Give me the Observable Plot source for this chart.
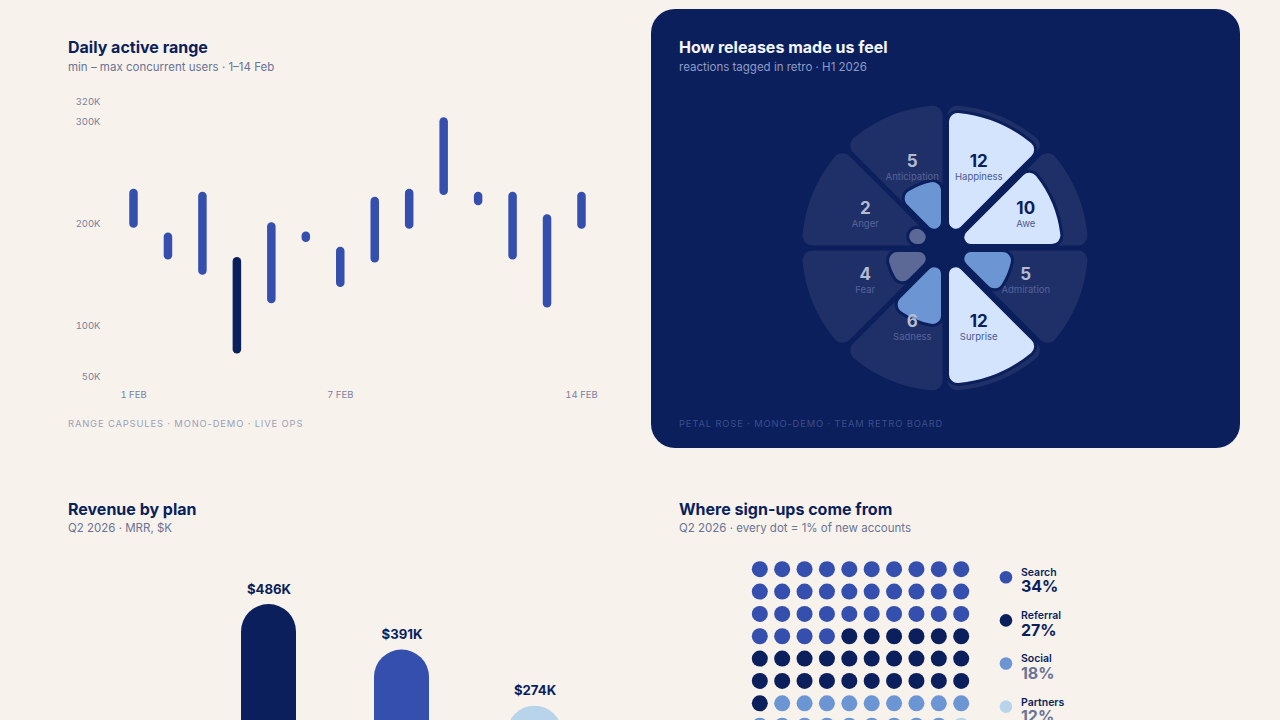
<!DOCTYPE html>
<html><head><meta charset="utf-8">
<script src="https://cdn.jsdelivr.net/npm/d3@7"></script>
<script src="https://cdn.jsdelivr.net/npm/@observablehq/plot@0.6"></script>
<style>
html,body{margin:0;padding:0;width:1280px;height:720px;overflow:hidden;background:#f7f2ec;font-family:Inter,sans-serif;}
.abs{position:absolute;white-space:nowrap;}
.title{font-size:16px;font-weight:700;color:#0b1f5c;line-height:20px;}
.sub{font-size:11.5px;color:#6b7396;line-height:14px;}
.foot{font-size:9.4px;letter-spacing:0.85px;color:#9ba1b8;line-height:12px;}
#card{position:absolute;left:651px;top:9px;width:589px;height:439px;border-radius:24px;background:#0b1f5c;}
.plot{position:absolute;}
</style></head>
<body>
<div class="abs title" style="left:68px;top:37px">Daily active range</div>
<div class="abs sub" style="left:68px;top:60px">min – max concurrent users · 1–14 Feb</div>
<div class="abs foot" style="left:68px;top:418px">RANGE CAPSULES · MONO-DEMO · LIVE OPS</div>
<div id="p1" class="plot" style="left:60px;top:85px"></div>

<div id="card"></div>
<div class="abs title" style="left:679px;top:37px;color:#f4f5fa">How releases made us feel</div>
<div class="abs sub" style="left:679px;top:60px;color:#8f9bc6">reactions tagged in retro · H1 2026</div>
<div class="abs foot" style="left:679px;top:418px;color:#3b4d8c">PETAL ROSE · MONO-DEMO · TEAM RETRO BOARD</div>
<div id="p2" class="plot" style="left:651px;top:80px"></div>

<div class="abs title" style="left:68px;top:499px">Revenue by plan</div>
<div class="abs sub" style="left:68px;top:521px">Q2 2026 · MRR, $K</div>
<div id="p3" class="plot" style="left:60px;top:540px"></div>

<div class="abs title" style="left:679px;top:499px">Where sign-ups come from</div>
<div class="abs sub" style="left:679px;top:521px">Q2 2026 · every dot = 1% of new accounts</div>
<div id="p4" class="plot" style="left:670px;top:545px"></div>

<script>
// ---------- data ----------
const days = [1,2,3,4,5,6,7,8,9,10,11,12,13,14];
const usersMin = [200000,169000,154000,77000,126000,186000,142000,166000,199000,232000,222000,169000,122000,199000];
const usersMax = [230000,187000,227000,163000,197000,188000,173000,222000,230000,300000,227000,227000,205000,227000];
const yTicks = [50000,100000,200000,300000,320000];
const xTicks = [1,7,14];

const emotions = ["Happiness","Awe","Admiration","Surprise","Sadness","Fear","Anger","Anticipation"];
const reactions = [12,10,5,12,6,4,2,5];

const plans = ["Starter","Pro","Team","Enterprise"];
const revenue = [152,486,391,274];

const sources = ["Search","Referral","Social","Partners","Other"];
const shares = [34,27,18,12,9];

// ---------- palette ----------
const NAVY="#0b1f5c", BLUE="#344fad", MID="#6b95d3", LIGHT="#b8d4ea";
const baseStyle = {background:"transparent", fontFamily:"Inter, sans-serif", overflow:"visible"};

// ---------- 1. range capsules ----------
const dayRows = days.map((d,i)=>({day:d, min:usersMin[i], max:usersMax[i]}));
const lowest = d3.min(usersMin);
document.getElementById("p1").append(Plot.plot({
  width:560, height:330, marginLeft:48, marginBottom:30, marginTop:10, marginRight:20,
  style:{...baseStyle, fontSize:"9.5px", color:"#7b819e"},
  x:{domain:[1,14], range:[73,521]},
  y:{domain:[50000,320000], range:[291.7,16]},
  marks:[
    Plot.axisY({ticks:yTicks, tickSize:0, tickPadding:8, tickFormat:d=>d/1000+"K", label:null}),
    Plot.axisX({ticks:xTicks, tickSize:0, tickPadding:6, tickFormat:d=>d+" FEB", label:null}),
    Plot.ruleX(dayRows, {x:"day", y1:"min", y2:"max", stroke:d=>d.min===lowest?NAVY:BLUE, strokeWidth:8.5, strokeLinecap:"round"})
  ]
}));

// ---------- 2. petal rose ----------
const r0 = 2.05;                       // inner hole, in value units
const rMax = d3.max(reactions)*1.05;
const R = r0 + rMax;
const step = 2*Math.PI/emotions.length;
const petalColor = v => v>=10 ? "#d3e4fc" : v>=5 ? MID : "#5c6896";
const roseRows = emotions.map((e,i)=>{
  const mid=(i+0.5)*step, rl=8.9;
  return {emotion:e, value:reactions[i], start:i*step, end:(i+1)*step, lx:rl*Math.sin(mid), ly:rl*Math.cos(mid)};
});
function roseMark(index, scales){
  const X=scales.x, Y=scales.y;
  const cx=X(0), cy=Y(0), k=X(1)-X(0);
  const g=d3.create("svg:g").attr("transform",`translate(${cx},${cy})`);
  const arc=d3.arc().innerRadius(r0*k).cornerRadius(10).padAngle(0.05).padRadius(100);
  roseRows.forEach(d=>g.append("path").attr("d",arc({startAngle:d.start,endAngle:d.end,outerRadius:R*k})).attr("fill","#1f3068"));
  roseRows.forEach(d=>g.append("path").attr("d",arc({startAngle:d.start,endAngle:d.end,outerRadius:(r0+d.value)*k}))
    .attr("fill",petalColor(d.value)).attr("stroke",NAVY).attr("stroke-width",3));
  return g.node();
}
document.getElementById("p2").append(Plot.plot({
  width:589, height:340, margin:0,
  style:{...baseStyle},
  x:{domain:[-R,R], range:[151,437], axis:null},
  y:{domain:[-R,R], range:[311,25], axis:null},
  marks:[
    roseMark,
    Plot.text(roseRows,{x:"lx", y:"ly", text:d=>String(d.value), dy:-7, fontSize:17, fontWeight:700,
      fill:d=>d.value>=10?NAVY:"#b4bbd2"}),
    Plot.text(roseRows,{x:"lx", y:"ly", text:"emotion", dy:8.5, fontSize:9.5,
      fill:d=>d.value>=10?"#4a5a90":"#56639a"})
  ]
}));

// ---------- 3. revenue bars ----------
const planRows = plans.map((p,i)=>({plan:p, value:revenue[i]}));
const planColor = {Starter:MID, Pro:NAVY, Team:BLUE, Enterprise:LIGHT};
document.getElementById("p3").append(Plot.plot({
  width:560, height:330, marginTop:9, marginBottom:33, marginLeft:0, marginRight:0,
  style:{...baseStyle},
  x:{domain:plans, range:[7,542], paddingInner:0.59, paddingOuter:0.295, axis:null},
  y:{domain:[0,600], range:[297,9.4], axis:null},
  marks:[
    Plot.barY(planRows,{x:"plan", y:"value", fill:d=>planColor[d.plan], rx:27.4}),
    Plot.text(planRows,{x:"plan", y:"value", text:d=>`$${d.value}K`, dy:-15, fontSize:13.2, fontWeight:700, fill:NAVY})
  ]
}));

// ---------- 4. waffle ----------
const srcColor = {Search:BLUE, Referral:NAVY, Social:MID, Partners:LIGHT, Other:"#d9dce6"};
const cells = [];
sources.forEach((s,si)=>{ for(let j=0;j<shares[si];j++){ const n=cells.length; cells.push({source:s, col:n%10, row:Math.floor(n/10)}); } });
const legendRows = sources.map((s,i)=>({source:s, share:shares[i], lx:11, ly:0.36+1.93*i, rank:i}));
document.getElementById("p4").append(Plot.plot({
  width:560, height:260, margin:0,
  style:{...baseStyle},
  x:{domain:[0,9], range:[89.3,290.7], axis:null},
  y:{domain:[0,9], range:[23.7,224.85], axis:null},
  marks:[
    Plot.dot(cells,{x:"col", y:"row", r:8, fill:d=>srcColor[d.source]}),
    Plot.dot(legendRows,{x:"lx", y:"ly", r:6.3, fill:d=>srcColor[d.source]}),
    Plot.text(legendRows,{x:"lx", y:"ly", text:"source", dx:15, dy:-4.5, textAnchor:"start", fontSize:10.5, fontWeight:600, fill:NAVY}),
    Plot.text(legendRows,{x:"lx", y:"ly", text:d=>d.share+"%", dx:15, dy:10, textAnchor:"start", fontSize:16, fontWeight:700,
      fill:d=>d.rank<2?NAVY:"#6b7396"})
  ]
}));
</script>
</body></html>
